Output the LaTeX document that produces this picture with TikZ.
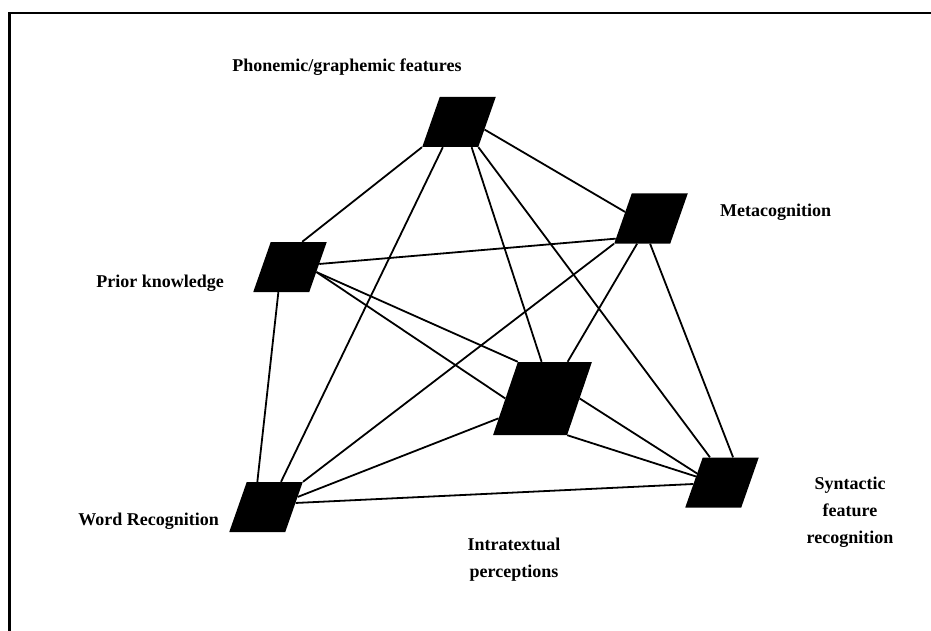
\documentclass[tikz,border=0pt]{standalone}
\usepackage{fontspec}
\setmainfont{Liberation Serif}
\usetikzlibrary{calc,backgrounds}
\begin{document}
\begin{tikzpicture}[x=1pt,y=-1pt,
  para/.style={fill=black, draw=none, inner sep=0pt, minimum width=56pt, minimum height=50pt, xslant=0.35, transform shape},
  bigpara/.style={fill=black, draw=none, inner sep=0pt, minimum width=74pt, minimum height=73pt, xslant=0.34, transform shape},
  link/.style={line width=1.8pt},
  lbl/.style={font=\fontsize{18}{27}\selectfont\bfseries, align=center, inner sep=0pt}]
\useasboundingbox (0,0) rectangle (931,631);
\draw[line width=2.6pt] (9.5,631) -- (9.5,13) -- (931,13);

\begin{scope}[shift={(459,122)}]\node[para] (P) {};\end{scope}
\begin{scope}[shift={(651,218.5)}]\node[para] (M) {};\end{scope}
\begin{scope}[shift={(290,267)}]\node[para] (K) {};\end{scope}
\begin{scope}[shift={(542.5,398.5)}]\node[bigpara] (C) {};\end{scope}
\begin{scope}[shift={(266,507)}]\node[para] (W) {};\end{scope}
\begin{scope}[shift={(722,482.5)}]\node[para] (S) {};\end{scope}

\begin{scope}[on background layer]
\draw[link] (P.south west) -- ($(K.north west)!0.56!(K.north east)$);
\draw[link] ($(P.south east)!0.35!(P.north east)$) -- ($(M.south west)!0.63!(M.north west)$);
\draw[link] ($(P.south west)!0.37!(P.south east)$) -- ($(W.north west)!0.61!(W.north east)$);
\draw[link] ($(P.south west)!0.88!(P.south east)$) -- ($(C.north west)!0.32!(C.north east)$);
\draw[link] (P.south east) -- ($(S.north west)!0.13!(S.north east)$);
\draw[link] ($(M.south west)!0.1!(M.north west)$) -- ($(K.south east)!0.56!(K.north east)$);
\draw[link] (M.south west) -- (W.north east);
\draw[link] ($(M.south west)!0.41!(M.south east)$) -- ($(C.north west)!0.67!(C.north east)$);
\draw[link] ($(M.south west)!0.64!(M.south east)$) -- ($(S.north west)!0.54!(S.north east)$);
\draw[link] ($(K.south west)!0.45!(K.south east)$) -- ($(W.north west)!0.19!(W.north east)$);
\draw[link] ($(K.south east)!0.4!(K.north east)$) -- (C.north west);
\draw[link] ($(K.south east)!0.4!(K.north east)$) -- (C.west);
\draw[link] ($(W.south east)!0.7!(W.north east)$) -- ($(C.south west)!0.23!(C.north west)$);
\draw[link] ($(W.south east)!0.58!(W.north east)$) -- ($(S.south west)!0.47!(S.north west)$);
\draw[link] (C.east) -- ($(S.south west)!0.68!(S.north west)$);
\draw[link] (C.south east) -- ($(S.south west)!0.62!(S.north west)$);
\end{scope}

\node[lbl] (tP) at (347,67) {Phonemic/graphemic features};
\node[lbl, anchor=west] (tM) at (720,212) {Metacognition};
\node[lbl, anchor=east] (tK) at (224,283) {Prior knowledge};
\node[lbl, anchor=east] (tW) at (219,521) {Word Recognition};
\node[lbl] (tI) at (514,560) {Intratextual\\perceptions};
\node[lbl] (tS) at (850,512) {Syntactic\\feature\\recognition};
\end{tikzpicture}
\end{document}
